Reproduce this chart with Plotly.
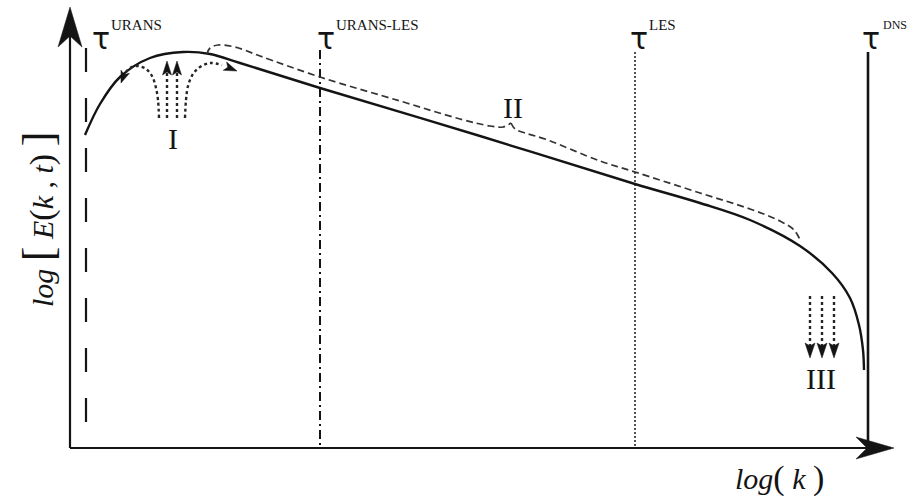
import math
import plotly.graph_objects as go

# Schematic coordinates: x = log(k) position, y = log E position (screen-like, downward)
W, H = 907, 500

# Energy spectrum curve
spectrum_x = [85, 100, 120, 150, 183, 210, 240, 320, 480, 635, 700, 750, 800, 832, 850, 859, 863, 864]
spectrum_y = [135, 104, 77, 58, 52, 54, 63, 88, 136, 184, 203, 220, 246, 273, 298, 325, 350, 370]

# Curly brace over the inertial range (region II), split at its cusp
brace_left_x = [207, 210, 218, 235, 260, 320, 400, 460, 490, 503, 511]
brace_left_y = [54, 48, 45, 47, 56, 77, 101, 119, 126, 127, 123]
brace_right_x = [511, 515, 525, 545, 600, 635, 700, 750, 780, 794, 801]
brace_right_y = [123, 129, 133, 139, 161, 172, 193, 209, 221, 230, 242]

# Modelling cut-offs
cutoff_names = ["URANS", "URANS-LES", "LES", "DNS"]
cutoff_x = [86, 320, 635, 868]
cutoff_top = [48, 50, 52, 52]
tau_x = [101, 326, 639, 871]
sup_x = [109, 334, 647, 881]

# Region I: energy exchange arrows near the peak
left_arc_x = [159, 158, 156, 152, 146, 138, 130, 124, 121]
left_arc_y = [118, 100, 88, 76, 69, 66, 68, 75, 83]
right_arc_x = [185, 186, 188, 193, 200, 210, 222, 237]
right_arc_y = [118, 100, 86, 74, 67, 63, 65, 71]
up_arrow_x = [167, 177]
up_arrow_y0, up_arrow_y1 = 118, 61

# Region III: dissipation arrows
down_arrow_x = [810, 822, 834]
down_arrow_y0, down_arrow_y1 = 296, 358

# Region labels
region_text = ["I", "II", "III"]
region_x = [173, 513, 821]
region_y = [138, 107, 378]

# Axes
origin = (70, 448)
x_tip = 894
y_tip = 7

INK = "#141414"
fig = go.Figure()


def line(x, y, width=2, dash="solid", color=INK, shape="linear"):
    fig.add_trace(go.Scatter(x=x, y=y, mode="lines", hoverinfo="skip",
                             line=dict(color=color, width=width, dash=dash, shape=shape,
                                       smoothing=1.0 if shape == "spline" else None)))


def dart(x0, y0, x1, y1, length, half, notch, color=INK):
    """Filled swept arrowhead with its tip at (x1, y1), pointing along (x0,y0)->(x1,y1)."""
    dx, dy = x1 - x0, y1 - y0
    n = math.hypot(dx, dy)
    dx, dy = dx / n, dy / n
    px, py = -dy, dx
    bx, by = x1 - length * dx, y1 - length * dy
    xs = [x1, bx + half * px, x1 - (length - notch) * dx, bx - half * px, x1]
    ys = [y1, by + half * py, y1 - (length - notch) * dy, by - half * py, y1]
    fig.add_trace(go.Scatter(x=xs, y=ys, mode="lines", fill="toself", fillcolor=color,
                             line=dict(color=color, width=0.5), hoverinfo="skip"))


# axes with arrowheads
line([origin[0], origin[0]], [origin[1], y_tip + 25], width=2.2)
dart(origin[0], origin[1], origin[0], y_tip, 40, 12, 11)
line([origin[0], x_tip - 25], [origin[1], origin[1]], width=2.2)
dart(origin[0], origin[1], x_tip, origin[1], 38, 11, 11)

# cut-off lines
styles = [("24px,26px", 2.2), ("9px,4px,2px,4px", 2), ("2px,2px", 2), ("solid", 2.6)]
bottoms = [430, origin[1], origin[1], origin[1]]
for xc, top, bot, (dash, w) in zip(cutoff_x, cutoff_top, bottoms, styles):
    line([xc, xc], [top, bot], width=w, dash=dash,
         color="#555555" if dash == "2px,2px" else INK)

# spectrum and brace
line(spectrum_x, spectrum_y, width=2.4, shape="spline")
line(brace_left_x, brace_left_y, width=1.7, dash="7px,4px", color="#333333", shape="spline")
line(brace_right_x, brace_right_y, width=1.7, dash="7px,4px", color="#333333", shape="spline")

# region I arrows
DOT = "3px,3px"
DOTC = "#262626"
line(left_arc_x[:-1], left_arc_y[:-1], width=2.4, dash=DOT, shape="spline", color=DOTC)
dart(left_arc_x[-2], left_arc_y[-2], left_arc_x[-1], left_arc_y[-1], 12, 4.5, 3)
line(right_arc_x[:-1], right_arc_y[:-1], width=2.4, dash=DOT, shape="spline", color=DOTC)
dart(right_arc_x[-2], right_arc_y[-2], right_arc_x[-1], right_arc_y[-1], 13, 4.5, 3)
for xa in up_arrow_x:
    line([xa, xa], [up_arrow_y0, up_arrow_y1 + 10], width=2.4, dash=DOT, color=DOTC)
    dart(xa, up_arrow_y0, xa, up_arrow_y1, 14, 4.5, 3)

# region III arrows
for xa in down_arrow_x:
    line([xa, xa], [down_arrow_y0, down_arrow_y1 - 10], width=2.4, dash=DOT, color=DOTC)
    dart(xa, down_arrow_y0, xa, down_arrow_y1, 15, 5, 3)

annotations = []
SERIF = "Liberation Serif, Times New Roman, serif"
for name, tx, sx in zip(cutoff_names, tau_x, sup_x):
    annotations.append(dict(x=tx, y=38, text="τ", showarrow=False,
                            font=dict(family="DejaVu Sans", size=30, color=INK),
                            xanchor="center", yanchor="middle"))
    last = name == cutoff_names[-1]
    annotations.append(dict(x=sx, y=25, text=name, showarrow=False,
                            font=dict(family=SERIF, size=12 if last else 15, color=INK),
                            xanchor="left", yanchor="middle"))

for t, rx, ry in zip(region_text, region_x, region_y):
    annotations.append(dict(x=rx, y=ry, text=t, showarrow=False,
                            font=dict(family=SERIF, size=30, color=INK),
                            xanchor="center", yanchor="middle"))

annotations.append(dict(x=779, y=478, showarrow=False, xanchor="center", yanchor="middle",
                        text="<i>log</i><span style='font-size:34px'>(</span> <i>k</i> "
                             "<span style='font-size:34px'>)</span>",
                        font=dict(family=SERIF, size=30, color=INK)))
annotations.append(dict(x=38, y=220, showarrow=False, xanchor="center", yanchor="middle",
                        textangle=-90,
                        text="<i>log</i> <span style='font-size:44px'>[</span> "
                             "<i>E</i><span style='font-size:34px'>(</span><i>k</i> , <i>t</i>"
                             "<span style='font-size:34px'>)</span> "
                             "<span style='font-size:44px'>]</span>",
                        font=dict(family=SERIF, size=30, color=INK)))

for a in annotations:
    a.update(xref="x", yref="y")

fig.update_layout(
    width=W, height=H, margin=dict(l=0, r=0, t=0, b=0),
    paper_bgcolor="white", plot_bgcolor="white", showlegend=False,
    xaxis=dict(range=[0, W], visible=False, fixedrange=True),
    yaxis=dict(range=[H, 0], visible=False, fixedrange=True),
    annotations=annotations,
)

fig.write_html("out.html")
